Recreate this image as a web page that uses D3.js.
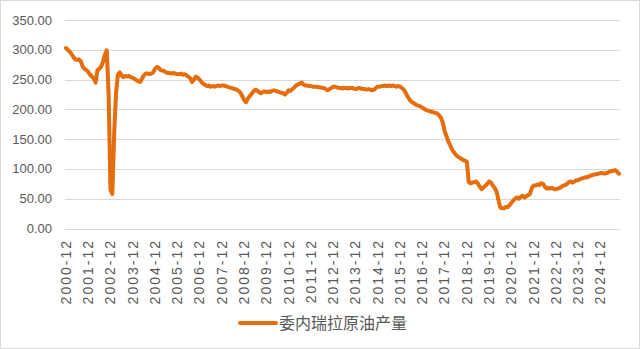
<html>
<head>
<meta charset="utf-8">
<script src="https://d3js.org/d3.v7.min.js"></script>
<style>
    body { margin:0; background:#fff; }
    .tick-y { font: 13px "Liberation Sans", Arial, sans-serif; fill:#595959; }
    .tick-x { font: 14px "Liberation Sans", Arial, sans-serif; fill:#595959; letter-spacing:2px; }
    .grid line { stroke:#d9d9d9; stroke-width:1px; }
    .legend { font: 16px "Noto Sans CJK SC", sans-serif; fill:#595959; }
</style>
</head>
<body>
<div id="chart"></div>
<script>
    var width = 640, height = 349;

    // 委内瑞拉原油产量 (万桶/日), monthly, 2000-12 .. 2025-10
    var startYear = 2000, startMonth = 12;
    var v2000 = [303];
    var v2001 = [300,297,293,288,284,283,284,281,272,268,266,263];
    var v2002 = [258,255,252,245,266,268,272,280,292,299,225,65];
    var v2003 = [58,160,228,258,262,257,254,256,255,256,254,253];
    var v2004 = [251,249,247,246,252,257,260,260,259,260,262,268];
    var v2005 = [271,270,266,265,264,262,261,261,260,261,260,259];
    var v2006 = [259,260,258,259,257,255,252,246,250,255,253,250];
    var v2007 = [246,243,241,239,240,238,239,238,239,240,239,240];
    var v2008 = [240,239,238,237,236,235,234,233,231,228,222,216];
    var v2009 = [212,218,222,226,230,233,232,229,227,229,230,229];
    var v2010 = [230,229,231,232,231,230,229,228,227,225,228,232];
    var v2011 = [231,234,237,240,242,243,245,242,240,240,239,239];
    var v2012 = [238,238,238,237,237,236,236,234,232,234,236,238];
    var v2013 = [238,237,236,236,235,236,236,235,236,236,235,234];
    var v2014 = [235,236,235,234,234,233,234,233,232,233,236,238];
    var v2015 = [238,239,239,240,239,240,239,240,239,238,239,238];
    var v2016 = [236,233,228,222,217,213,211,209,207,206,205,203];
    var v2017 = [201,199,198,197,196,195,194,193,190,186,178,164];
    var v2018 = [155,146,140,133,128,124,121,119,117,115,114,112];
    var v2019 = [78,76,77,78,79,75,70,66,69,72,75,79];
    var v2020 = [77,72,68,62,48,35,34,34,36,36,39,43];
    var v2021 = [47,50,52,50,53,55,52,54,56,58,68,72];
    var v2022 = [72,74,73,76,75,70,67,68,67,68,66,66];
    var v2023 = [67,68,70,72,73,75,78,79,77,79,81,81];
    var v2024 = [83,84,85,86,86,88,89,90,91,91,92,93];
    var v2025 = [93,92,93,94,96,96,97,98,95,92];

    var yTicks = [0,50,100,150,200,250,300,350];
    var seriesName = "委内瑞拉原油产量";

    var values = [].concat(v2000,v2001,v2002,v2003,v2004,v2005,v2006,v2007,v2008,v2009,
        v2010,v2011,v2012,v2013,v2014,v2015,v2016,v2017,v2018,v2019,v2020,v2021,v2022,v2023,v2024,v2025);

    var data = values.map(function(v,i){
        var m = startMonth - 1 + i;
        var yr = startYear + Math.floor(m/12);
        var mm = (m % 12) + 1;
        return {label: yr + "-" + (mm<10 ? "0"+mm : mm), value: v};
    });

    var plotL = 65, plotR = 620, plotT = 20, plotB = 228.5;

    var x = d3.scalePoint().domain(data.map(d=>d.label)).range([plotL, plotR]).padding(0.5);
    var y = d3.scaleLinear().domain([0,350]).range([plotB, plotT]);

    var svg = d3.select("#chart").append("svg")
        .attr("width", width).attr("height", height);

    svg.append("rect").attr("x",0.5).attr("y",0.5).attr("width",width-1).attr("height",height-1)
        .attr("fill","#fff").attr("stroke","#d9d9d9");

    // gridlines
    var grid = svg.append("g").attr("class","grid");
    grid.selectAll("line").data(yTicks).enter().append("line")
        .attr("x1", plotL).attr("x2", plotR)
        .attr("y1", d=>Math.round(y(d))+0.5).attr("y2", d=>Math.round(y(d))+0.5);

    // y labels
    svg.append("g").selectAll("text").data(yTicks).enter().append("text")
        .attr("class","tick-y")
        .attr("x", 52).attr("y", d=>y(d)).attr("dy","0.35em")
        .attr("text-anchor","end")
        .text(d=>d3.format(".2f")(d));

    // x labels, every 12 months
    var xLabels = data.filter(function(d){ return d.label.slice(5)=="12"; });
    svg.append("g").selectAll("text").data(xLabels).enter().append("text")
        .attr("class","tick-x")
        .attr("transform", d=>"translate(" + x(d.label) + ",239) rotate(-90)")
        .attr("dy","0.35em")
        .attr("text-anchor","end")
        .text(d=>d.label);

    var line = d3.line().x(d=>x(d.label)).y(d=>y(d.value));
    svg.append("path").datum(data)
        .attr("d", line)
        .attr("fill","none")
        .attr("stroke","#e56d0c")
        .attr("stroke-width",4)
        .attr("stroke-linejoin","round")
        .attr("stroke-linecap","round");

    // legend
    var lg = svg.append("g").attr("transform","translate(240,323)");
    lg.append("line").attr("x1",0).attr("x2",36).attr("y1",0).attr("y2",0)
        .attr("stroke","#e56d0c").attr("stroke-width",4).attr("stroke-linecap","round");
    lg.append("text").attr("class","legend").attr("x",39).attr("dy","0.35em").text(seriesName);
</script>
</body>
</html>
